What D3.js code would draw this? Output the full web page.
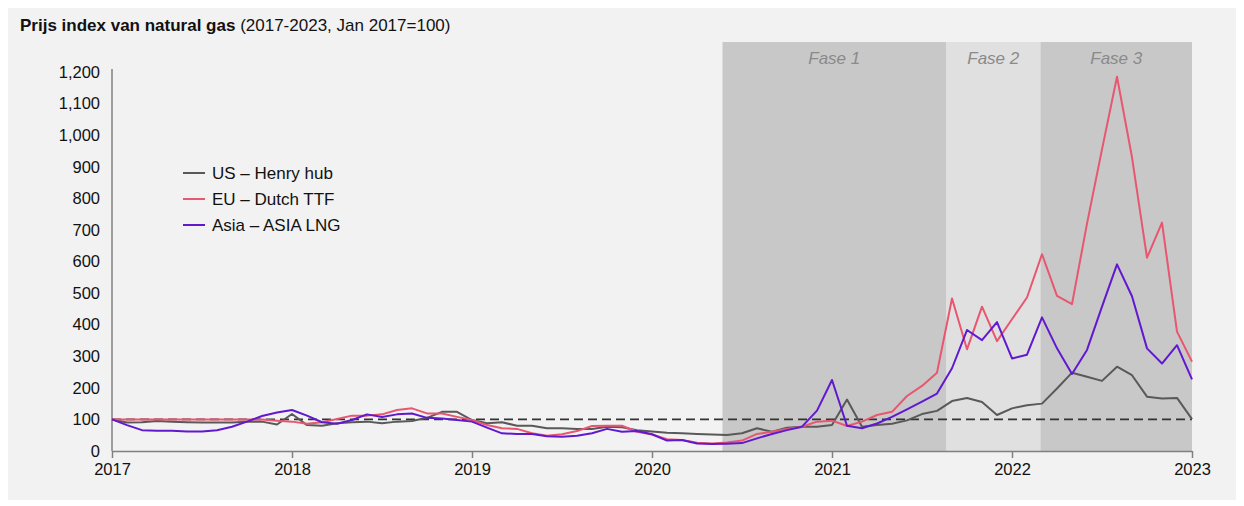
<!DOCTYPE html>
<html>
<head>
<meta charset="utf-8">
<script src="https://cdn.jsdelivr.net/npm/d3@7"></script>
<style>
  html, body { margin: 0; padding: 0; background: #ffffff; }
  svg { display: block; font-family: "Liberation Sans", Arial, sans-serif; }
</style>
</head>
<body>
<svg id="chart" width="1244" height="506"></svg>
<script>
// ---- Data (month index 0 = Jan 2017 ... 72 = Jan 2023) ----
const yearLabels = ["2017", "2018", "2019", "2020", "2021", "2022", "2023"];
const yTicks = [0, 100, 200, 300, 400, 500, 600, 700, 800, 900, 1000, 1100, 1200];

const usHenryHub = [100, 90, 91, 95, 93, 91, 90, 90, 90, 93, 93, 84,
  117, 82, 80, 88, 91, 93, 88, 93, 95, 105, 124, 124,
  98, 88, 91, 80, 80, 72, 72, 70, 70, 77, 75, 66,
  62, 58, 56, 54, 52, 51, 56, 72, 61, 74, 77, 77,
  82, 163, 77, 82, 86, 97, 117, 127, 158, 168, 155, 114,
  135, 145, 150, 198, 248, 235, 222, 267, 240, 172, 166, 168,
  101];

const euDutchTTF = [100, 100, 100, 100, 100, 100, 100, 100, 100, 100, 100, 96,
  93, 86, 91, 101, 112, 112, 116, 130, 135, 119, 119, 108,
  98, 82, 72, 70, 56, 48, 53, 63, 79, 80, 80, 61,
  52, 37, 35, 26, 24, 27, 33, 54, 61, 70, 77, 93,
  96, 79, 93, 114, 124, 174, 206, 248, 483, 322, 457, 348,
  417, 486, 623, 491, 465, 720, 955, 1185, 930, 612, 723, 378,
  283];

const asiaLNG = [100, 82, 66, 64, 64, 62, 62, 66, 77, 93, 111, 122,
  130, 112, 91, 86, 98, 116, 108, 116, 119, 105, 103, 98,
  93, 74, 56, 54, 54, 47, 45, 48, 56, 70, 61, 63,
  53, 33, 35, 24, 22, 23, 25, 40, 54, 66, 77, 128,
  225, 80, 72, 87, 108, 132, 156, 182, 262, 383, 351, 408,
  293, 305, 423, 325, 244, 320, 457, 591, 490, 325, 277, 335,
  227];

const seriesNames = ["US \u2013 Henry hub", "EU \u2013 Dutch TTF", "Asia \u2013 ASIA LNG"];
const seriesColors = ["#595959", "#e8566f", "#6119d0"];

// phases: [start month index, end month index]
const phaseNames = ["Fase 1", "Fase 2", "Fase 3"];
const phaseStart = [40.7, 55.6, 61.9];
const phaseEnd = [55.6, 61.9, 72];
const phaseFill = ["#c8c8c8", "#e0e0e0", "#c8c8c8"];

const baseline = 100;

// ---- Drawing ----
const svg = d3.select("#chart");

svg.append("rect").attr("x", 8).attr("y", 8).attr("width", 1228).attr("height", 492)
  .attr("fill", "#f2f2f2");

const x = d3.scaleLinear().domain([0, 72]).range([112, 1192]);
const y = d3.scaleLinear().domain([0, 1200]).range([451, 72]);

// title
const title = svg.append("text").attr("x", 20).attr("y", 31)
  .attr("font-size", 17).attr("fill", "#111");
title.append("tspan").attr("font-weight", "bold").text("Prijs index van natural gas ");
title.append("tspan").text("(2017-2023, Jan 2017=100)");

// phase bands
const bandTop = 42;
phaseNames.forEach((name, i) => {
  svg.append("rect")
    .attr("x", x(phaseStart[i])).attr("y", bandTop)
    .attr("width", x(phaseEnd[i]) - x(phaseStart[i]))
    .attr("height", y(0) - bandTop)
    .attr("fill", phaseFill[i]);
  svg.append("text")
    .attr("x", (x(phaseStart[i]) + x(phaseEnd[i])) / 2).attr("y", 64)
    .attr("text-anchor", "middle").attr("font-size", 17).attr("font-style", "italic")
    .attr("fill", "#8a8a8a").text(name);
});

// y axis
const yAxis = d3.axisLeft(y).tickValues(yTicks).tickFormat(d3.format(",")).tickSize(0).tickPadding(12);
const gy = svg.append("g").attr("transform", `translate(${x(0)},0)`).call(yAxis);
gy.select(".domain").attr("stroke", "#808080").attr("stroke-width", 1.5)
  .attr("d", `M0,${y(1200) - 3}V${y(0)}`);
gy.selectAll("text").attr("font-size", 16.5).attr("fill", "#111")
  .attr("font-family", "Liberation Sans, Arial, sans-serif");

// x axis
const xAxis = d3.axisBottom(x).tickValues(d3.range(0, 73, 12))
  .tickFormat((d, i) => yearLabels[i]).tickSize(7).tickSizeOuter(0).tickPadding(5);
const gx = svg.append("g").attr("transform", `translate(0,${y(0)})`).call(xAxis);
gx.select(".domain").attr("stroke", "#808080").attr("stroke-width", 1.5);
gx.selectAll(".tick line").attr("stroke", "#808080").attr("stroke-width", 1.5);
gx.selectAll("text").attr("font-size", 16.5).attr("fill", "#111")
  .attr("font-family", "Liberation Sans, Arial, sans-serif");

// baseline dashed
svg.append("line")
  .attr("x1", x(0)).attr("x2", x(72)).attr("y1", y(baseline)).attr("y2", y(baseline))
  .attr("stroke", "#333333").attr("stroke-width", 1.8).attr("stroke-dasharray", "9,5");

// lines
const allSeries = [usHenryHub, euDutchTTF, asiaLNG];
const line = d3.line().x((d, i) => x(i)).y(d => y(d));
allSeries.forEach((s, i) => {
  svg.append("path").datum(s).attr("d", line)
    .attr("fill", "none").attr("stroke", seriesColors[i]).attr("stroke-width", 2)
    .attr("stroke-linejoin", "round");
});

// legend
seriesNames.forEach((name, i) => {
  const ly = 173 + i * 26;
  svg.append("line").attr("x1", 183).attr("x2", 205).attr("y1", ly).attr("y2", ly)
    .attr("stroke", seriesColors[i]).attr("stroke-width", 2);
  svg.append("text").attr("x", 212).attr("y", ly + 6).attr("font-size", 17)
    .attr("fill", "#111").text(name);
});
</script>
</body>
</html>
